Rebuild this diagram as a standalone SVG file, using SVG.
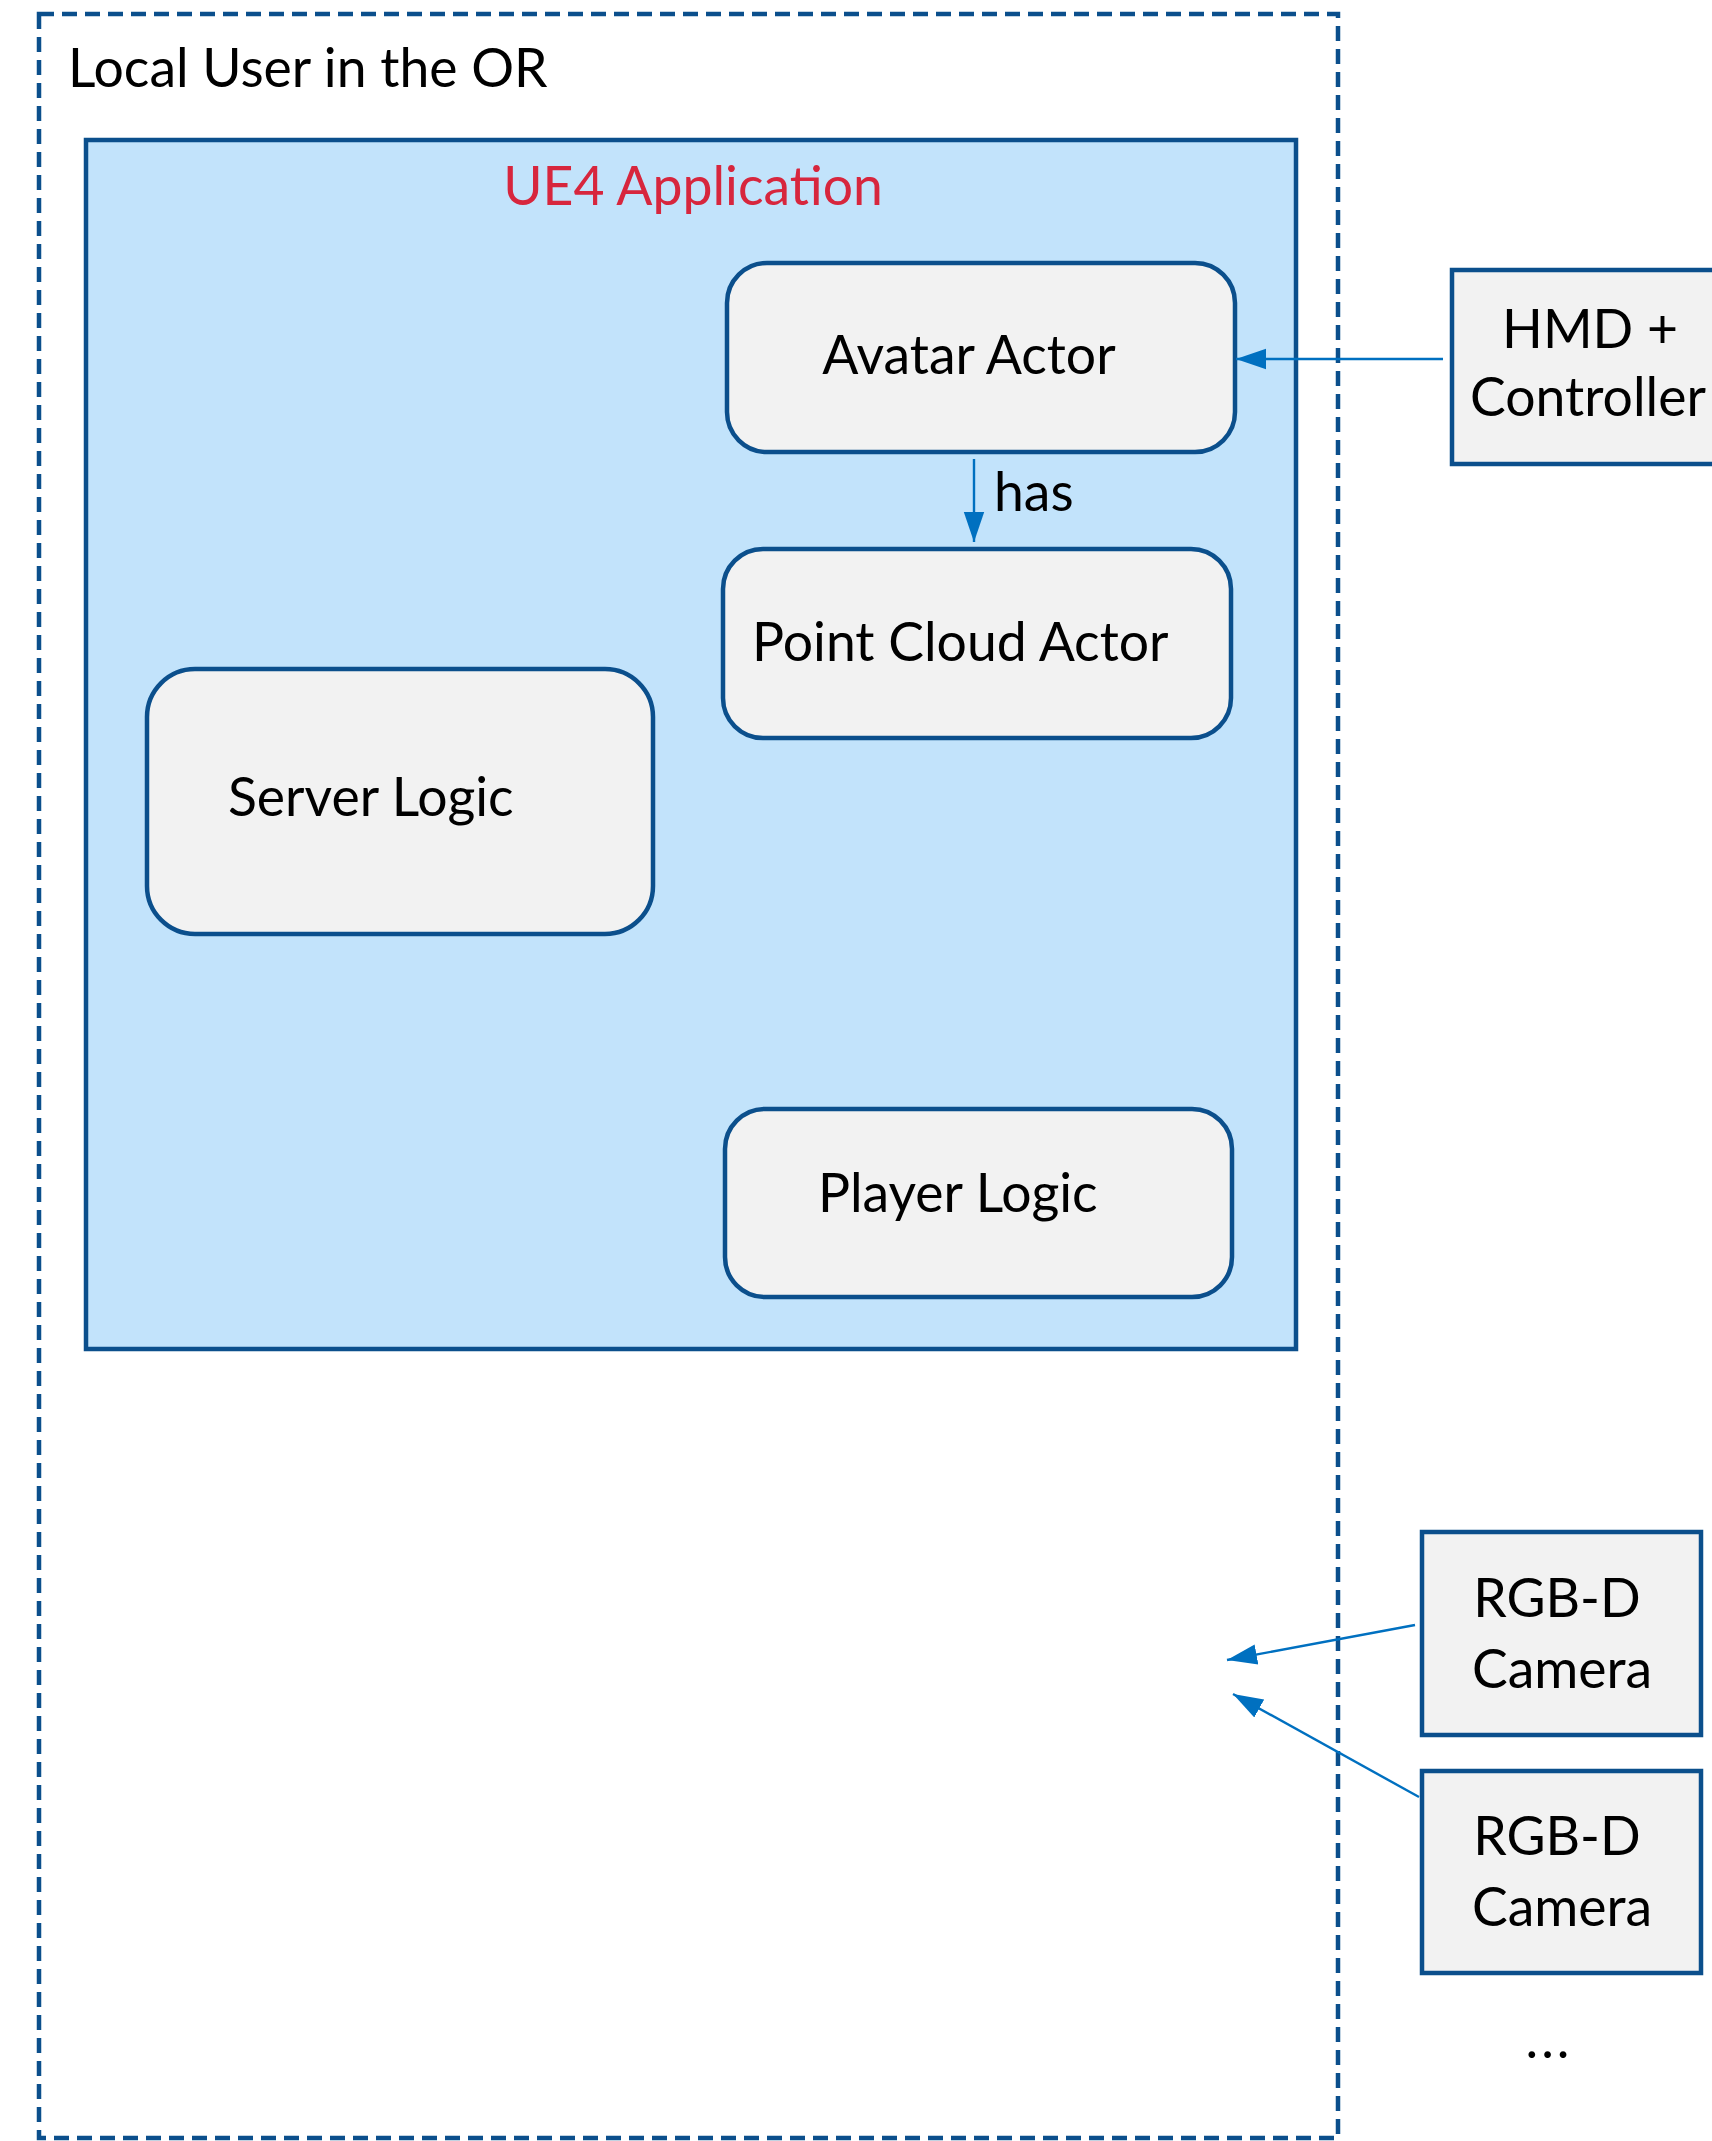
<svg xmlns="http://www.w3.org/2000/svg" width="1712" height="2141" viewBox="0 0 1712 2141">
<defs>
<style>
.t{font-family:Lato,"Liberation Sans",sans-serif;fill:#000;font-size:53.5px}
.node{fill:#F2F2F2;stroke:#0B4F8C;stroke-width:4.5}
.conn{stroke:#0070C0;stroke-width:2.4;fill:none}
</style>
<marker id="ahb" viewBox="0 0 10 10" refX="10" refY="5" markerWidth="30" markerHeight="30" markerUnits="userSpaceOnUse" orient="auto"><path d="M0,1.6 L10,5 L0,8.4 z" fill="#0070C0"/></marker>
</defs>
<rect width="1712" height="2141" fill="#fff"/>
<g id="local-user">
<rect x="39" y="14" width="1299" height="2124" fill="none" stroke="#0B4F8C" stroke-width="4.5" stroke-dasharray="15 8"/>
<text class="t" x="68" y="87">Local User in the OR</text>
</g>
<g id="ue4-app">
<rect x="86" y="140" width="1210" height="1209" fill="#C2E3FB" stroke="#0B4F8C" stroke-width="4.5"/>
<text x="693" y="205" text-anchor="middle" style="font-family:Lato,'Liberation Sans',sans-serif;font-size:53.5px;fill:#D7263D">UE4 Application</text>
</g>
<g id="avatar-actor">
<rect class="node" x="727" y="263" width="508" height="189" rx="40"/>
<text class="t" x="969" y="374" text-anchor="middle">Avatar Actor</text>
</g>
<g id="point-cloud-actor">
<rect class="node" x="723" y="549" width="508" height="189" rx="40"/>
<text class="t" x="752" y="661">Point Cloud Actor</text>
</g>
<g id="server-logic">
<rect class="node" x="147" y="669" width="506" height="265" rx="48"/>
<text class="t" x="228" y="816">Server Logic</text>
</g>
<g id="player-logic">
<rect class="node" x="725" y="1109" width="507" height="188" rx="40"/>
<text class="t" x="818" y="1212">Player Logic</text>
</g>
<g id="hmd-controller">
<rect class="node" x="1452" y="270" width="270" height="194"/>
<text class="t" x="1590" y="348" text-anchor="middle">HMD +</text>
<text class="t" x="1470" y="416">Controller</text>
</g>
<g id="rgbd-camera-1">
<rect class="node" x="1422" y="1532" width="279" height="203"/>
<text class="t" x="1557" y="1617" text-anchor="middle">RGB-D</text>
<text class="t" x="1562" y="1688" text-anchor="middle">Camera</text>
</g>
<g id="rgbd-camera-2">
<rect class="node" x="1422" y="1771" width="279" height="202"/>
<text class="t" x="1557" y="1855" text-anchor="middle">RGB-D</text>
<text class="t" x="1562" y="1926" text-anchor="middle">Camera</text>
</g>
<g id="more">
<text class="t" x="1549" y="2058" text-anchor="middle" letter-spacing="3">...</text>
</g>
<g id="connectors">
<line class="conn" x1="1443" y1="359" x2="1236" y2="359" marker-end="url(#ahb)"/>
<line class="conn" x1="974" y1="459" x2="974" y2="542" marker-end="url(#ahb)"/>
<text class="t" x="994" y="511">has</text>
<line class="conn" x1="1415" y1="1625" x2="1227" y2="1660" marker-end="url(#ahb)"/>
<line class="conn" x1="1419" y1="1797" x2="1233" y2="1694" marker-end="url(#ahb)"/>
</g>
</svg>
